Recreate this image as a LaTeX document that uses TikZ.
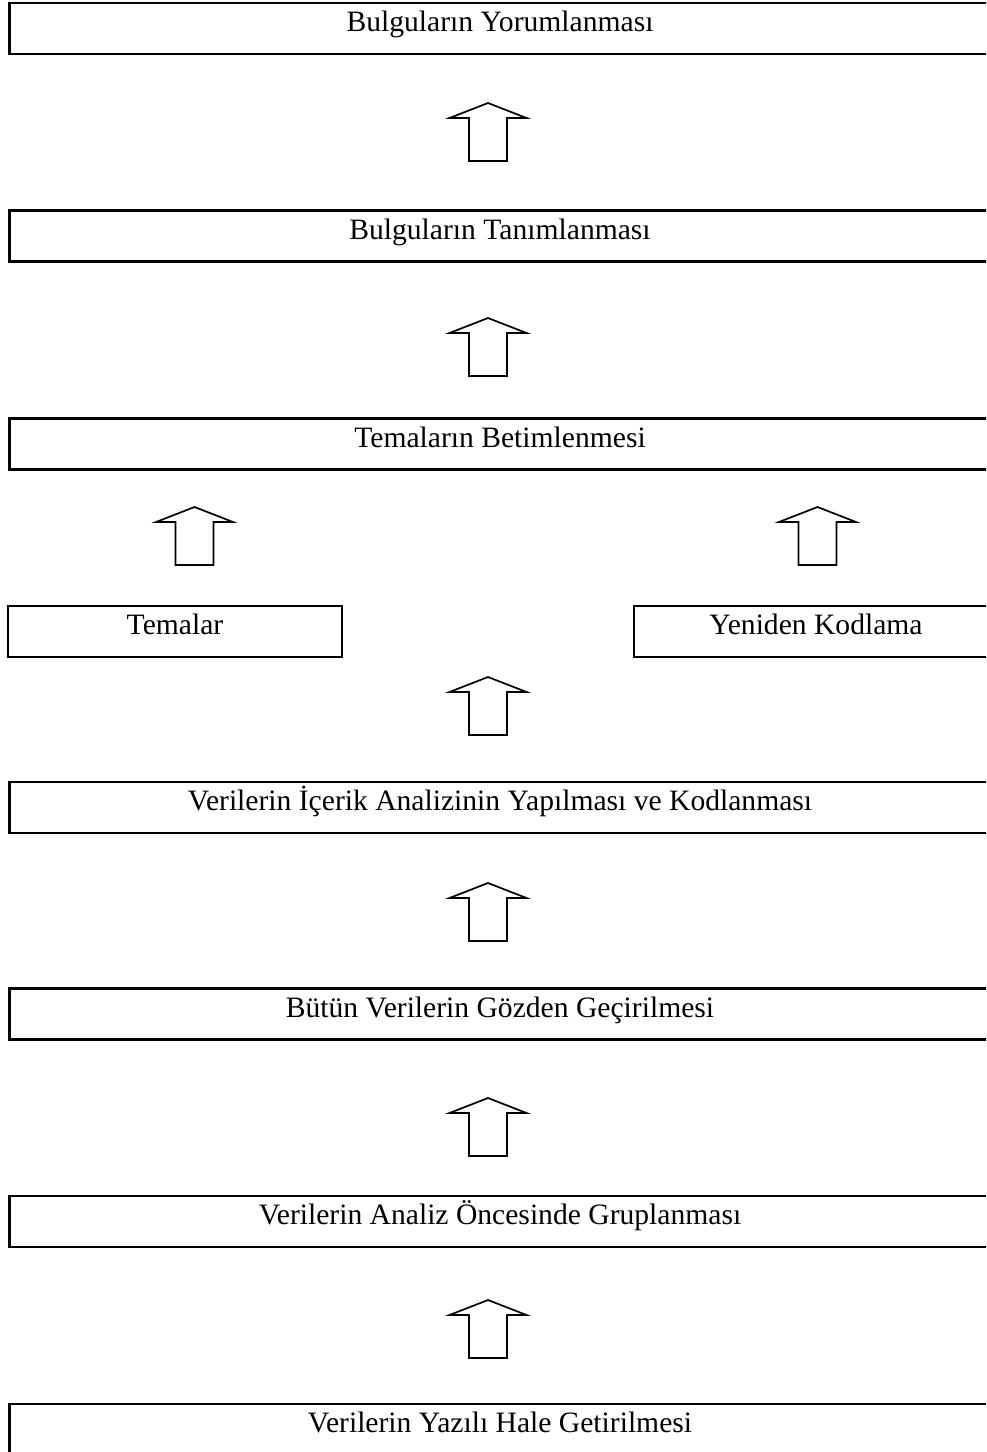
\documentclass[tikz,border=0pt]{standalone}
\usepackage{fontspec}
\setmainfont{Liberation Serif}
\begin{document}
\begin{tikzpicture}[x=1pt,y=-1pt,
  stagebox/.style={draw=black,line width=2.4pt,rectangle,inner sep=0pt,
    minimum height=51pt,text height=12pt,text depth=6pt,
    font=\fontsize{29.6}{34}\selectfont},
  widebox/.style={stagebox,minimum width=981pt},
  blockline/.style={draw=black,line width=1.7pt,line join=miter,fill=white},
  blockup/.pic={\path[blockline] (-19,58) -- (-19,15) -- (-38.5,15) -- (0,0)
      -- (38.5,15) -- (19,15) -- (19,58) -- cycle;}]
\clip (0,0) rectangle (986,1452);
\fill[white] (0,0) rectangle (986,1452);

% main stages, from the top of the page downwards
\node[widebox] (yorum)   at (500,28.3)  {Bulguların Yorumlanması};
\node[widebox] (tanim)   at (500,236)   {Bulguların Tanımlanması};
\node[widebox] (betim)   at (500,444)   {Temaların Betimlenmesi};
\node[stagebox,minimum width=334pt] (tema)  at (175,631.5) {Temalar};
\node[stagebox,minimum width=364pt] (kodla) at (816,631.5) {Yeniden Kodlama};
\node[widebox] (icerik)  at (500,807.5) {Verilerin İçerik Analizinin Yapılması ve Kodlanması};
\node[widebox] (gozden)  at (500,1014)  {Bütün Verilerin Gözden Geçirilmesi};
\node[widebox] (grupla)  at (500,1221.5) {Verilerin Analiz Öncesinde Gruplanması};
\node[widebox] (yazili)  at (500,1429.5) {Verilerin Yazılı Hale Getirilmesi};

% hollow block arrows between the stages
\pic at (488,103)  {blockup};
\pic at (488,318)  {blockup};
\pic at (194.5,507) {blockup};
\pic at (817.5,507) {blockup};
\pic at (488,677)  {blockup};
\pic at (488,883)  {blockup};
\pic at (488,1098) {blockup};
\pic at (488,1300) {blockup};
\end{tikzpicture}
\end{document}
